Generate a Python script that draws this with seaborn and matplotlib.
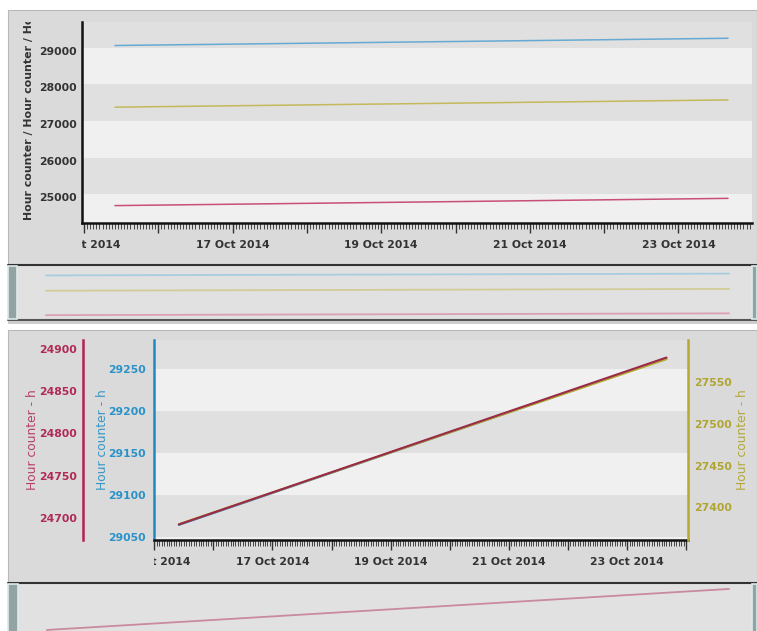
import matplotlib
matplotlib.use("Agg")
import matplotlib.pyplot as plt
import matplotlib.dates as mdates
from matplotlib.patches import Rectangle
from matplotlib.lines import Line2D
from matplotlib.ticker import FuncFormatter
from matplotlib.transforms import Bbox, TransformedBbox, ScaledTranslation
import pandas as pd
import seaborn as sns

# hour counter readings (h)
times = ["2014-10-15 10:00", "2014-10-16 10:00", "2014-10-17 10:00", "2014-10-18 10:00",
         "2014-10-19 10:00", "2014-10-20 10:00", "2014-10-21 10:00", "2014-10-22 10:00",
         "2014-10-23 10:00", "2014-10-23 16:00"]
red_hours = [24692, 24716, 24740, 24764, 24788, 24812, 24836, 24860, 24884, 24890]
blue_hours = [29064, 29088, 29112, 29136, 29160, 29184, 29208, 29232, 29256, 29262]
yellow_hours = [27380, 27404, 27428, 27452, 27476, 27500, 27524, 27548, 27572, 27578]

top_ticks = [25000, 26000, 27000, 28000, 29000]
red_ticks = [24700, 24750, 24800, 24850, 24900]
blue_ticks = [29050, 29100, 29150, 29200, 29250]
yellow_ticks = [27400, 27450, 27500, 27550]

df = pd.DataFrame({"time": pd.to_datetime(times), "red": red_hours,
                   "blue": blue_hours, "yellow": yellow_hours})

RED, BLUE, YELLOW = "#b3214f", "#2089c2", "#b5aa30"
DARK, LIGHT, PANEL, SCROLL = "#e0e0e0", "#f0f0f0", "#dadada", "#e1e1e1"

sns.set_theme(style="ticks", rc={"xtick.direction": "out"})
plt.rcParams["font.family"] = ["DejaVu Sans"]
plt.rcParams["font.weight"] = "bold"

W, H = 757, 631
fig = plt.figure(figsize=(7.57, 6.31), dpi=100, facecolor="white")


def rect(x0, y0, x1, y1):
    return [x0 / W, 1 - y1 / H, (x1 - x0) / W, (y1 - y0) / H]


def box(x0, y0, x1, y1, fc, ec="none", lw=0, z=-5):
    fig.add_artist(Rectangle((x0 / W, 1 - y1 / H), (x1 - x0) / W, (y1 - y0) / H,
                             transform=fig.transFigure, facecolor=fc, edgecolor=ec,
                             linewidth=lw, zorder=z))


def hline(y, x0, x1, color, lw):
    fig.add_artist(Line2D([x0 / W, x1 / W], [1 - y / H, 1 - y / H], transform=fig.transFigure,
                          color=color, linewidth=lw, zorder=5))


# panels and scrollbars
box(8, 10, 757, 265, PANEL, ec="#b8b8b8", lw=0.8)
box(8, 265, 757, 321, SCROLL)
box(8, 321, 757, 324, "#cfcfcf")
box(8, 330, 757, 583, PANEL, ec="#b8b8b8", lw=0.8)
box(8, 583, 757, 640, SCROLL)
hline(265, 8, 757, "#333333", 1.5)
hline(320, 8, 757, "#555555", 1.5)
hline(583, 8, 757, "#333333", 1.5)
for (a, b, c, d) in [(8, 266, 17, 319), (752, 266, 757, 319), (8, 584, 18, 640), (752, 584, 757, 640)]:
    box(a, b, c, d, "#93a3a3", ec="#dceaea", lw=1.2, z=6)


def day_label(x, pos):
    d = mdates.num2date(round(x))
    return d.strftime("%d %b %Y") if d.day % 2 == 1 else ""


def time_axis(ax, start, end):
    ax.set_xlim(pd.Timestamp(start), pd.Timestamp(end))
    ax.xaxis.set_major_locator(mdates.DayLocator())
    ax.xaxis.set_minor_locator(mdates.HourLocator())
    ax.xaxis.set_major_formatter(FuncFormatter(day_label))
    ax.tick_params(axis="x", which="major", bottom=True, length=7.5, width=1, color="#333333",
                   pad=5, labelsize=7.8, labelcolor="#333333")
    ax.tick_params(axis="x", which="minor", bottom=True, length=4, width=0.7, color="#444444")
    ax.set_xlabel("")


def bands(ax, ticks, lo, hi):
    edges = [lo] + ticks + [hi]
    for i in range(len(edges) - 1):
        ax.axhspan(edges[i], edges[i + 1], color=LIGHT if i % 2 == 0 else DARK, lw=0, zorder=0)
    ax.set_ylim(lo, hi)


# ---- top chart: all counters on one axis
ax_t = fig.add_axes(rect(82, 22, 752, 223))
ax_t.set_facecolor(LIGHT)
bands(ax_t, top_ticks, 24217, 29706)
sns.lineplot(data=df, x="time", y="blue", ax=ax_t, color="#66aad3", lw=1.1)
sns.lineplot(data=df, x="time", y="yellow", ax=ax_t, color="#c4b95c", lw=1.1)
sns.lineplot(data=df, x="time", y="red", ax=ax_t, color="#c84f75", lw=1.1)
time_axis(ax_t, "2014-10-14 23:22", "2014-10-23 23:45")
ax_t.set_yticks(top_ticks)
ax_t.tick_params(axis="y", length=0, pad=3.6, labelsize=7.8, labelcolor="#333333")
for s in ["top", "right"]:
    ax_t.spines[s].set_visible(False)
for s in ["left", "bottom"]:
    ax_t.spines[s].set_color("#111111")
    ax_t.spines[s].set_linewidth(1.8)
ax_t.set_ylabel("Hour counter / Hour counter / Hour counter", loc="bottom",
                fontsize=7.9, color="#333333", fontweight="bold")
ax_t.yaxis.set_label_coords(-0.072, 0.015)
ax_t.yaxis.label.set_clip_box(TransformedBbox(Bbox([[-1, 0], [1, 1]]), ax_t.transAxes))
ax_t.yaxis.label.set_clip_on(True)

# top scroller
ax_ts = fig.add_axes(rect(17, 267, 752, 319))
ax_ts.set_facecolor(SCROLL)
sns.lineplot(data=df, x="time", y="blue", ax=ax_ts, color="#a9cde0", lw=1.3)
sns.lineplot(data=df, x="time", y="yellow", ax=ax_ts, color="#d2cc96", lw=1.3)
sns.lineplot(data=df, x="time", y="red", ax=ax_ts, color="#dca0b4", lw=1.3)
ax_ts.set_xlim(pd.Timestamp("2014-10-15 01:37"), pd.Timestamp("2014-10-23 22:39"))
ax_ts.set_ylim(24270, 29990)

# ---- bottom chart: one axis per counter
ax_b = fig.add_axes(rect(154, 340, 688, 540))
ax_b.set_facecolor(LIGHT)
bands(ax_b, blue_ticks, 29046, 29284)
ax_y = ax_b.twinx()
ax_r = ax_b.twinx()

sns.lineplot(data=df, x="time", y="blue", ax=ax_b, color=BLUE, lw=1.5)
sns.lineplot(data=df, x="time", y="yellow", ax=ax_y, color=YELLOW, lw=1.5)
sns.lineplot(data=df, x="time", y="red", ax=ax_r, color="#9a2a48", lw=1.5)
time_axis(ax_b, "2014-10-14 23:55", "2014-10-24 00:45")

ax_b.set_yticks(blue_ticks)
ax_b.tick_params(axis="y", length=0, pad=5.8, labelsize=7.8, labelcolor="#2a92c8")
ax_y.set_ylim(27361, 27601)
ax_y.set_yticks(yellow_ticks)
ax_y.tick_params(axis="y", length=0, pad=4.3, labelsize=7.8, labelcolor="#b0a532")
ax_r.set_ylim(24673.6, 24910.8)
ax_r.set_yticks(red_ticks)
ax_r.yaxis.tick_left()
ax_r.yaxis.set_label_position("left")
ax_r.tick_params(axis="y", length=0, pad=4.3, labelsize=7.8, labelcolor="#b02a55")

for a in [ax_b, ax_y, ax_r]:
    for s in a.spines.values():
        s.set_visible(False)
ax_b.spines["left"].set_visible(True)
ax_b.spines["left"].set_color(BLUE)
ax_b.spines["bottom"].set_visible(True)
ax_b.spines["bottom"].set_color("#111111")
ax_y.spines["right"].set_visible(True)
ax_y.spines["right"].set_color(YELLOW)
ax_r.spines["left"].set_visible(True)
ax_r.spines["left"].set_color(RED)
ax_r.spines["left"].set_position(("axes", (83 - 154) / 534))
for sp in [ax_b.spines["left"], ax_b.spines["bottom"], ax_y.spines["right"], ax_r.spines["left"]]:
    sp.set_linewidth(1.8)

for a, col, x in [(ax_r, "#b5406a", -0.215), (ax_b, "#3596c8", -0.084), (ax_y, "#b3a83a", 1.09)]:
    a.set_ylabel("Hour counter - h", color=col, fontsize=8.8, fontweight="normal")
    a.yaxis.set_label_coords(x, 0.5)
    a.set_xlabel("")

# bottom scroller
ax_bs = fig.add_axes(rect(18, 585, 752, 631))
ax_bs.set_facecolor(SCROLL)
sns.lineplot(data=df, x="time", y="red", ax=ax_bs, color="#c98a9e", lw=1.3)
ax_bs.set_xlim(pd.Timestamp("2014-10-15 01:37"), pd.Timestamp("2014-10-23 22:39"))
ax_bs.set_ylim(24687, 24909)

for a in [ax_ts, ax_bs]:
    a.set_xticks([])
    a.set_yticks([])
    a.set_xlabel("")
    a.set_ylabel("")
    for s in a.spines.values():
        s.set_visible(False)

# clip the first date label at the plot edge, like the original
fig.canvas.draw()
for a in [ax_t, ax_b]:
    clip = TransformedBbox(Bbox([[0, -2], [1.1, 1]]), a.transAxes)
    for lab in a.get_xticklabels():
        lab.set_clip_box(clip)
        lab.set_clip_on(True)
# top value labels sit a little under their grid lines
shift = ScaledTranslation(0, -3 / 100, fig.dpi_scale_trans)
for lab in ax_t.get_yticklabels():
    lab.set_transform(lab.get_transform() + shift)

fig.savefig("out.png", dpi=100, facecolor="white")
